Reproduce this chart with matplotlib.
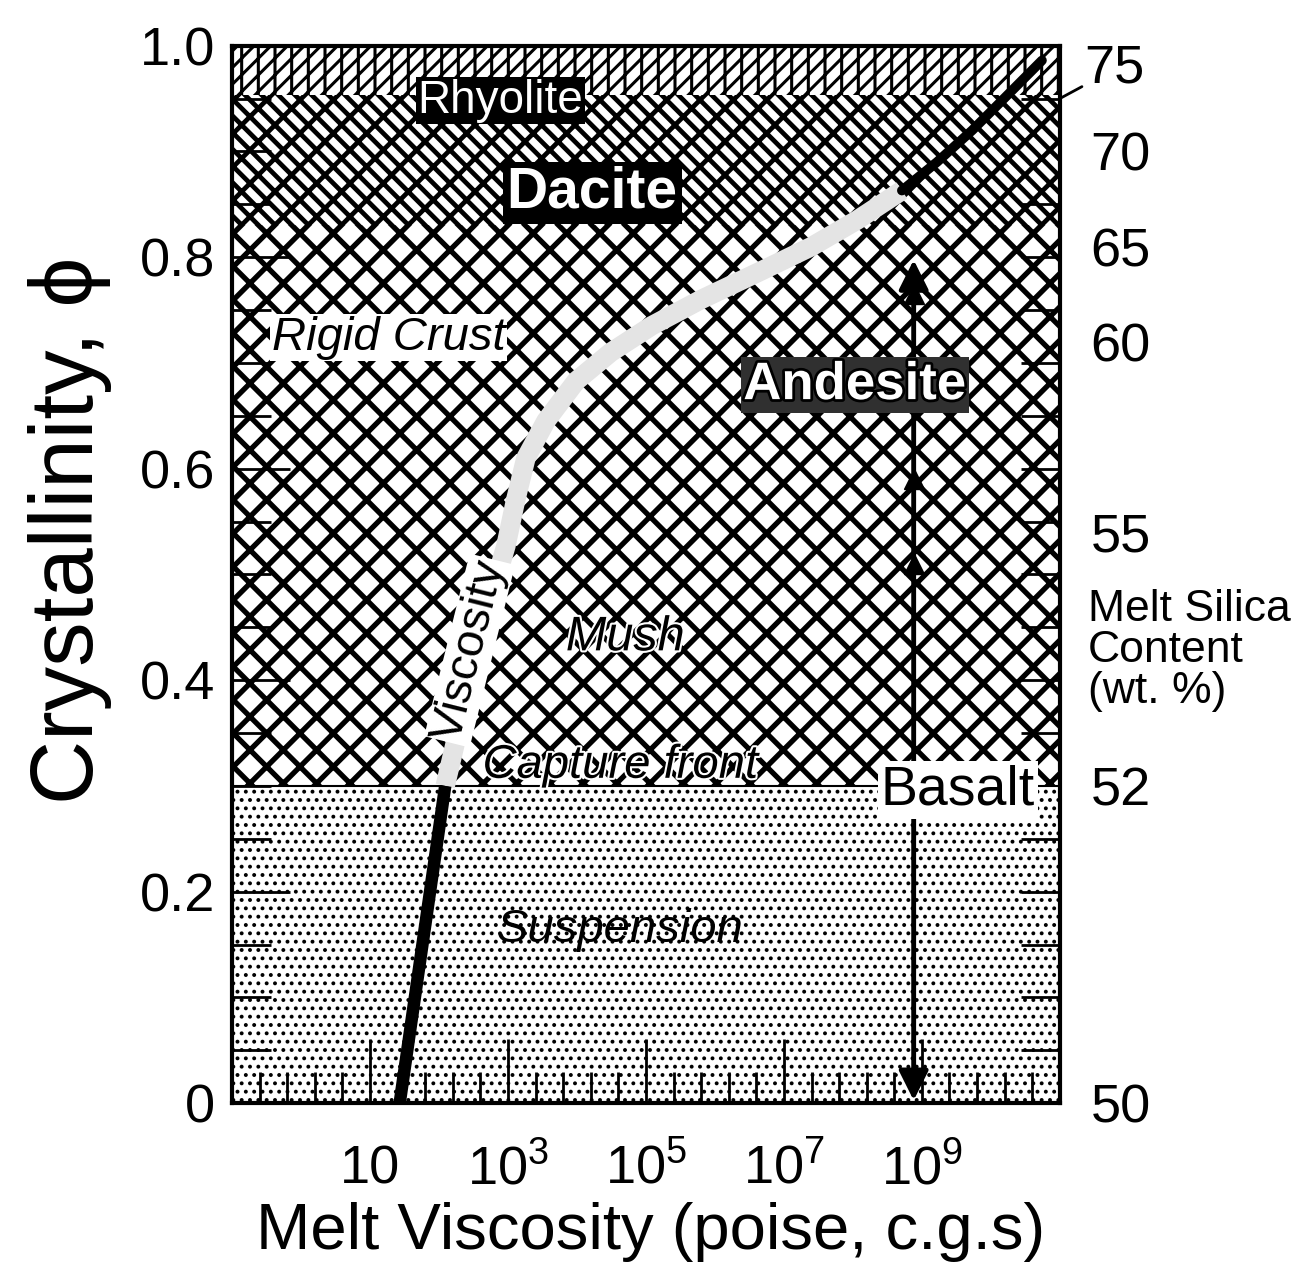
import numpy as np
import matplotlib.pyplot as plt
import matplotlib.ticker as mticker
import matplotlib.patheffects as pe

plt.rcParams['font.family'] = ['Liberation Sans', 'DejaVu Sans']
plt.rcParams['mathtext.fontset'] = 'custom'
plt.rcParams['mathtext.rm'] = 'Liberation Sans'

# viscosity curve: log10(poise) vs crystallinity
visc_log = [1.43, 1.65, 1.87, 2.09, 2.45, 2.85, 2.97, 3.11, 3.26, 3.55, 3.99,
            4.49, 5.08, 5.80, 6.67, 7.40, 8.06, 8.71, 9.22, 9.73, 10.16, 10.74]
visc_phi = [0.0, 0.1, 0.2, 0.3, 0.4, 0.5, 0.527, 0.57, 0.61, 0.645, 0.683,
            0.71, 0.735, 0.76, 0.787, 0.81, 0.835, 0.863, 0.89, 0.92, 0.948, 0.986]

# pattern zones (crystallinity bounds)
zone_lo = [0.0, 0.30, 0.83, 0.953]
zone_hi = [0.30, 0.83, 0.953, 1.0]
zone_hatch = ['..', 'x', 'x\\', '//|']
zone_hlw = [1.6, 3.8, 3.4, 2.2]

# right axis: melt silica content
silica = [50, 52, 55, 60, 65, 70, 75]
silica_phi = [0.0, 0.30, 0.54, 0.72, 0.81, 0.90, 0.95]

# basalt arrow
basalt_visc = 7.6e8
basalt_phi = [0.0, 0.80]
basalt_heads = [0.765, 0.59, 0.51]

x_major = [1e1, 1e3, 1e5, 1e7, 1e9]
x_labels = ['10', r'$10^3$', r'$10^5$', r'$10^7$', r'$10^9$']

fig = plt.figure(figsize=(13.14, 12.68), dpi=100)
ax = fig.add_axes([0.1766, 0.130, 0.630, 0.834])
ax.set_xscale('log')
ax.set_xlim(1e-1, 1e11)
ax.set_ylim(0, 1)

for lo, hi, h, hlw in zip(zone_lo, zone_hi, zone_hatch, zone_hlw):
    plt.rcParams['hatch.linewidth'] = hlw
    coll = ax.fill_between([1e-1, 1e11], lo, hi, facecolor='white', edgecolor='black',
                           hatch=h, linewidth=0, zorder=1)
    if hasattr(coll, 'set_hatch_linewidth'):
        coll.set_hatch_linewidth(hlw)
ax.axhline(zone_lo[1], color='black', lw=1.5, zorder=2)

vx = 10 ** np.array(visc_log)
vphi = np.array(visc_phi)
low = vphi <= 0.3
mid = (vphi >= 0.3) & (vphi <= 0.87)
top = vphi >= 0.86
ax.plot(vx[mid], vphi[mid], color='#e4e4e4', lw=14, solid_capstyle='butt', zorder=3)
ax.plot(vx[low], vphi[low], color='black', lw=9, solid_capstyle='butt', zorder=4)
ax.plot(vx[top], vphi[top], color='black', lw=7, solid_capstyle='round', zorder=4)

ax.annotate('', xy=(basalt_visc, basalt_phi[0]), xytext=(basalt_visc, basalt_phi[1]),
            arrowprops=dict(arrowstyle='<|-|>', lw=3.5, color='black', mutation_scale=45),
            zorder=5)
ax.plot([basalt_visc] * len(basalt_heads), basalt_heads, marker='^', ms=14,
        color='black', ls='none', zorder=5)

# labels
ax.text(0.324, 0.948, 'Rhyolite', transform=ax.transAxes, fontsize=33, color='white',
        ha='center', va='center', zorder=6,
        bbox=dict(fc='black', ec='none', pad=1))
ax.text(0.435, 0.861, 'Dacite', transform=ax.transAxes, fontsize=41, weight='bold',
        color='white', ha='center', va='center', zorder=6,
        bbox=dict(fc='black', ec='none', pad=3))
ax.text(0.048, 0.724, 'Rigid Crust', transform=ax.transAxes, fontsize=34, style='italic',
        ha='left', va='center', zorder=6, bbox=dict(fc='white', ec='none', pad=1))
ax.text(0.752, 0.679, 'Andesite', transform=ax.transAxes, fontsize=38, weight='bold',
        color='white', ha='center', va='center', zorder=6,
        path_effects=[pe.withStroke(linewidth=4, foreground='black')],
        bbox=dict(fc='#303030', ec='none', pad=2))
ax.text(0.287, 0.428, 'Viscosity', transform=ax.transAxes, fontsize=34, rotation=76,
        ha='center', va='center', zorder=6, bbox=dict(fc='white', ec='none', pad=1))
ax.text(0.475, 0.440, 'Mush', transform=ax.transAxes, fontsize=35, style='italic',
        ha='center', va='center', zorder=6,
        path_effects=[pe.withStroke(linewidth=3, foreground='white')])
ax.text(0.469, 0.319, 'Capture front', transform=ax.transAxes, fontsize=34, style='italic',
        ha='center', va='center', zorder=6,
        path_effects=[pe.withStroke(linewidth=3, foreground='white')])
ax.text(0.469, 0.164, 'Suspension', transform=ax.transAxes, fontsize=34, style='italic',
        ha='center', va='center', zorder=6)
ax.text(0.877, 0.296, 'Basalt', transform=ax.transAxes, fontsize=40,
        ha='center', va='center', zorder=6, bbox=dict(fc='white', ec='none', pad=2))

# axes styling
for s in ax.spines.values():
    s.set_linewidth(3)
    s.set_zorder(7)

ax.xaxis.set_major_locator(mticker.FixedLocator(x_major))
ax.xaxis.set_minor_locator(mticker.FixedLocator(
    [10 ** v for v in np.arange(-0.6, 11, 0.4) if abs(v - round(v)) > 0.05 or round(v) % 2 == 0]))
ax.set_xticklabels(x_labels)
ax.tick_params(axis='x', which='major', direction='in', length=46, width=2,
               labelsize=39, pad=58)
ax.tick_params(axis='x', which='minor', direction='in', length=22, width=2)
for lbl in ax.get_xticklabels():
    lbl.set_va('baseline')

ax.yaxis.set_major_locator(mticker.FixedLocator([0, 0.2, 0.4, 0.6, 0.8, 1.0]))
ax.yaxis.set_minor_locator(mticker.MultipleLocator(0.05))
ax.set_yticklabels(['0', '0.2', '0.4', '0.6', '0.8', '1.0'])
ax.tick_params(axis='y', which='major', direction='in', length=42, width=2,
               labelsize=39, pad=12)
ax.tick_params(axis='y', which='minor', direction='in', length=28, width=2)

ax2 = ax.twinx()
ax2.set_ylim(0, 1)
ax2.yaxis.set_major_locator(mticker.FixedLocator(silica_phi[:-1]))
ax2.set_yticklabels([str(v) for v in silica[:-1]])
ax2.yaxis.set_minor_locator(mticker.MultipleLocator(0.05))
ax2.tick_params(axis='y', which='major', length=0, labelsize=39, pad=22)
ax2.tick_params(axis='y', which='minor', direction='in', length=28, width=2)
for s in ax2.spines.values():
    s.set_visible(False)
ax2.annotate(str(silica[-1]), xy=(1.0, silica_phi[-1]), xycoords='axes fraction',
             xytext=(1.03, 0.978), textcoords='axes fraction', fontsize=39,
             ha='left', va='center',
             arrowprops=dict(arrowstyle='-', lw=2, color='black', shrinkA=0, shrinkB=0))

fig.text(0.828, 0.487, 'Melt Silica\nContent\n(wt. %)', fontsize=32, ha='left',
         va='center', linespacing=1.0)
fig.text(0.053, 0.582, 'Crystallinity, \u03d5', rotation=90, fontsize=64,
         ha='center', va='center')
fig.text(0.495, 0.028, 'Melt Viscosity (poise, c.g.s)', fontsize=47,
         ha='center', va='center')

fig.savefig('out.png', dpi=100)
